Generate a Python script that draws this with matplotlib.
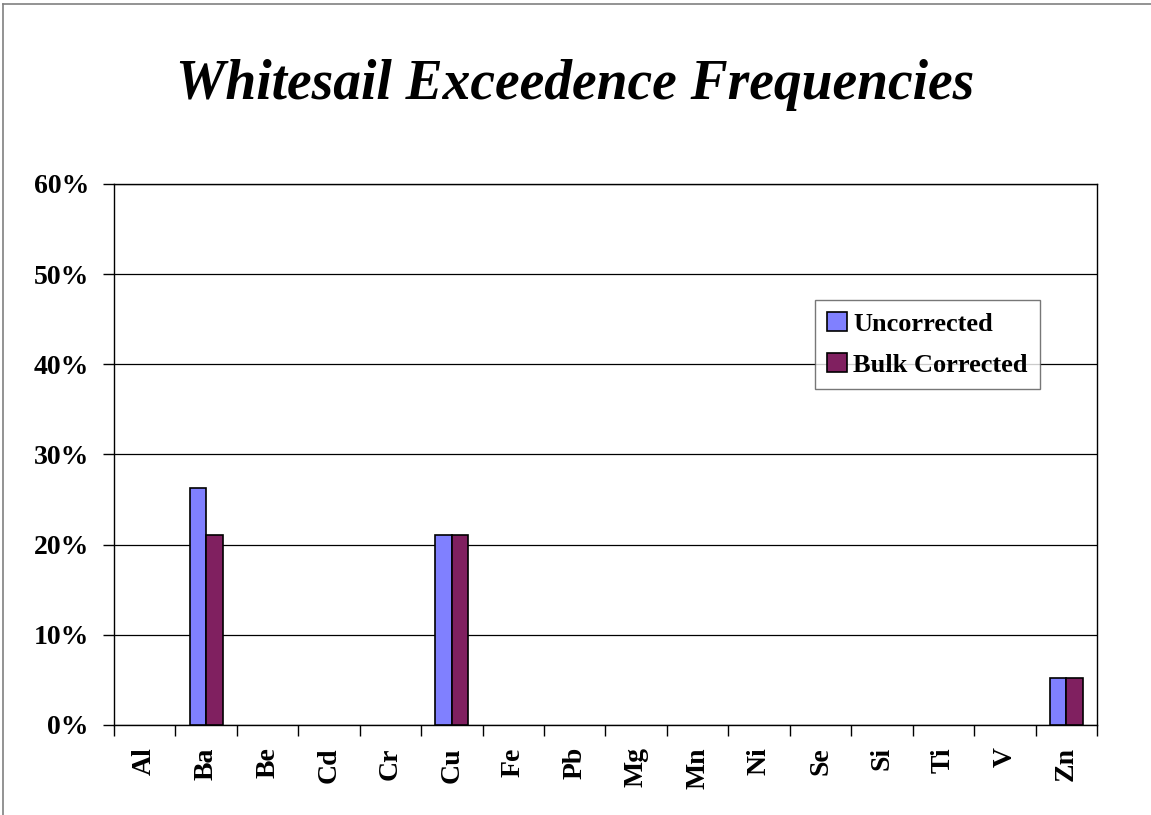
import matplotlib
matplotlib.use("Agg")
import matplotlib.pyplot as plt
import numpy as np
from matplotlib.lines import Line2D

elements = ["Al", "Ba", "Be", "Cd", "Cr", "Cu", "Fe", "Pb", "Mg", "Mn",
            "Ni", "Se", "Si", "Ti", "V", "Zn"]
uncorrected = [0.0, 26.3, 0.0, 0.0, 0.0, 21.05, 0.0, 0.0, 0.0, 0.0,
               0.0, 0.0, 0.0, 0.0, 0.0, 5.26]
bulk_corrected = [0.0, 21.05, 0.0, 0.0, 0.0, 21.05, 0.0, 0.0, 0.0, 0.0,
                  0.0, 0.0, 0.0, 0.0, 0.0, 5.26]
y_ticks = [0, 10, 20, 30, 40, 50, 60]
series_names = ["Uncorrected", "Bulk Corrected"]

serif = ["Liberation Serif", "DejaVu Serif"]
col_unc = "#8080FF"
col_bulk = "#802060"

fig = plt.figure(figsize=(11.51, 8.15), dpi=100)
W, H = 1151, 815
ax = fig.add_axes([114 / W, 1 - 725 / H, (1097 - 114) / W, (725 - 184) / H])

x = np.arange(len(elements))
bw = 0.27


def nonzero(vals):
    # zero-height bars are left out so they leave no outline on the axis
    v = np.asarray(vals, dtype=float)
    return np.where(v > 0, v, np.nan)


ax.bar(x - bw / 2, nonzero(uncorrected), width=bw, color=col_unc,
       edgecolor="black", linewidth=1.2, zorder=3, label=series_names[0])
ax.bar(x + bw / 2, nonzero(bulk_corrected), width=bw, color=col_bulk,
       edgecolor="black", linewidth=1.2, zorder=3, label=series_names[1])

ax.set_xlim(-0.5, len(elements) - 0.5)
ax.set_ylim(0, 60)
ax.set_yticks(y_ticks)
ax.set_yticklabels([f"{v}%" for v in y_ticks], fontfamily=serif,
                   fontweight="bold", fontsize=20)
ax.yaxis.grid(True, color="black", linewidth=0.9, zorder=0)
ax.set_axisbelow(True)

# category boundaries carry the tick marks; labels sit at the centres
ax.set_xticks(np.arange(len(elements) + 1) - 0.5)
ax.set_xticklabels([])
ax.set_xticks(x, minor=True)
ax.set_xticklabels(elements, minor=True, rotation=90, fontfamily=serif,
                   fontweight="bold", fontsize=20)
ax.tick_params(axis="x", which="minor", length=0, pad=16)
ax.tick_params(axis="x", which="major", length=8, width=1, direction="out")
ax.tick_params(axis="y", length=8, width=1, direction="out", pad=10)
for s in ax.spines.values():
    s.set_linewidth(1.0)
    s.set_color("black")

leg = ax.legend(loc="upper left", bbox_to_anchor=((815 - 114) / (1097 - 114),
                                                  (725 - 300) / (725 - 184)),
                prop={"family": serif, "weight": "bold", "size": 19},
                frameon=True, fancybox=False, edgecolor="#555555",
                handlelength=0.75, handleheight=0.75, handletextpad=0.25,
                labelspacing=0.65, borderpad=0.45, borderaxespad=0)
leg.get_frame().set_linewidth(1.0)

fig.text(0.5, 1 - 85 / H, "Whitesail Exceedence Frequencies", ha="center",
         va="center", fontfamily=serif, fontweight="bold", fontstyle="italic",
         fontsize=40)

# outer chart frame (left and top edges)
fig.add_artist(Line2D([3 / W, 3 / W], [0, 1 - 4 / H], transform=fig.transFigure,
                      color="#808080", linewidth=1.2))
fig.add_artist(Line2D([3 / W, 1], [1 - 4 / H, 1 - 4 / H], transform=fig.transFigure,
                      color="#808080", linewidth=1.2))

fig.savefig("out.png", dpi=100)
